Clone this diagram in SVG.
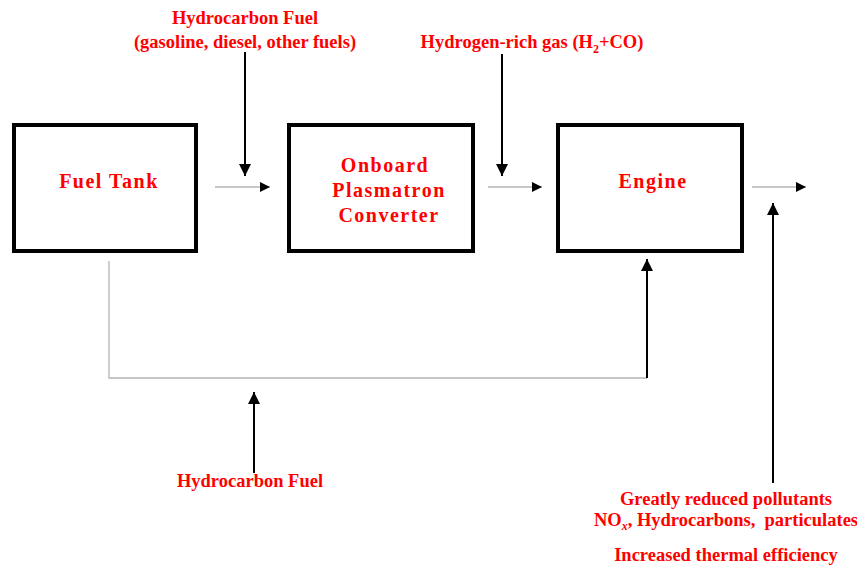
<svg xmlns="http://www.w3.org/2000/svg" width="857" height="566" viewBox="0 0 857 566">
<style>
.box{fill:#fff;stroke:#000;stroke-width:4;}
.nt{font-family:"Liberation Serif","Times New Roman",serif;font-weight:bold;font-size:20px;fill:#ff0000;letter-spacing:1.5px;text-anchor:middle;}
.lb{font-family:"Liberation Serif","Times New Roman",serif;font-weight:bold;font-size:18.5px;fill:#ff0000;text-anchor:middle;white-space:pre;}
.gl{fill:none;stroke:#b4b4b4;stroke-width:1.3;}
.bl{fill:none;stroke:#000;stroke-width:2;}
</style>
<defs>
<marker id="ah" viewBox="0 0 10 10" refX="10" refY="5" markerWidth="10" markerHeight="10" markerUnits="userSpaceOnUse" orient="auto">
<path d="M0,0 L10,5 L0,10 z" fill="#000"/>
</marker>
<marker id="ahb" viewBox="0 0 10 10" refX="10" refY="5" markerWidth="12" markerHeight="12" markerUnits="userSpaceOnUse" orient="auto">
<path d="M0,0 L10,5 L0,10 z" fill="#000"/>
</marker>
</defs>
<rect width="857" height="566" fill="#fff"/>
<g id="connectors">
<line class="gl" x1="215" y1="187" x2="270" y2="187" marker-end="url(#ah)"/>
<line class="gl" x1="488" y1="187" x2="542" y2="187" marker-end="url(#ah)"/>
<line class="gl" x1="752" y1="187" x2="806" y2="187" marker-end="url(#ah)"/>
<polyline class="gl" points="109,261 109,378 647,378"/>
<line class="bl" x1="245" y1="52" x2="245" y2="176" marker-end="url(#ahb)"/>
<line class="bl" x1="502" y1="54" x2="502" y2="176" marker-end="url(#ahb)"/>
<line class="bl" x1="647" y1="378" x2="647" y2="259" marker-end="url(#ahb)"/>
<line class="bl" x1="254" y1="473" x2="254" y2="392" marker-end="url(#ahb)"/>
<line class="bl" x1="773" y1="483" x2="773" y2="203" marker-end="url(#ahb)"/>
</g>
<g id="fuel-tank">
<rect class="box" x="14" y="125" width="182" height="126"/>
<text class="nt" x="109" y="188">Fuel Tank</text>
</g>
<g id="converter">
<rect class="box" x="289" y="125" width="184" height="126"/>
<text class="nt" x="385" y="172">Onboard</text>
<text class="nt" x="389" y="197">Plasmatron</text>
<text class="nt" x="389" y="222">Converter</text>
</g>
<g id="engine">
<rect class="box" x="558" y="125" width="184" height="126"/>
<text class="nt" x="653" y="188">Engine</text>
</g>
<g id="labels">
<text class="lb" x="245" y="24">Hydrocarbon Fuel</text>
<text class="lb" x="245" y="48">(gasoline, diesel, other fuels)</text>
<text class="lb" x="532" y="48">Hydrogen-rich gas (H<tspan font-size="12" dy="5">2</tspan><tspan dy="-5">+CO)</tspan></text>
<text class="lb" x="250" y="487">Hydrocarbon Fuel</text>
<text class="lb" x="726" y="505">Greatly reduced pollutants</text>
<text class="lb" x="726" y="526" xml:space="preserve">NO<tspan font-size="12" font-style="italic" dy="4">x</tspan><tspan dy="-4">, Hydrocarbons,  particulates</tspan></text>
<text class="lb" x="726" y="561">Increased thermal efficiency</text>
</g>
</svg>
